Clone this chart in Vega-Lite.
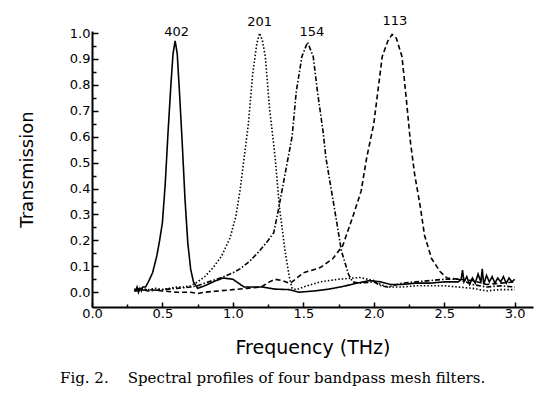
{
  "$schema": "https://vega.github.io/schema/vega-lite/v6.json",
  "width": 441,
  "height": 276,
  "autosize": {"type": "none"},
  "padding": {"left": 92, "top": 31, "right": 20, "bottom": 91},
  "background": "white",
  "config": {
    "view": {"stroke": null},
    "font": "DejaVu Sans",
    "axis": {
      "grid": false,
      "domainColor": "black",
      "domainWidth": 2,
      "tickColor": "black",
      "tickWidth": 1.5,
      "labelColor": "black",
      "labelFont": "DejaVu Sans",
      "labelFontSize": 13,
      "titleFont": "DejaVu Sans",
      "titleFontSize": 18,
      "titleFontWeight": "normal",
      "titleColor": "black",
      "labelFlush": false,
      "labelOverlap": false
    }
  },
  "title": {
    "text": "Fig. 2.\u00a0\u00a0\u00a0\u00a0Spectral profiles of four bandpass mesh filters.",
    "orient": "bottom",
    "anchor": "start",
    "frame": "group",
    "dx": -32,
    "offset": 14,
    "font": "DejaVu Serif",
    "fontSize": 15,
    "fontWeight": "normal",
    "color": "black"
  },
  "datasets": {
    "curves": [
      {"series": "402", "f": 0.30, "T": 0.01},
      {"series": "402", "f": 0.31, "T": 0.005},
      {"series": "402", "f": 0.32, "T": 0.02},
      {"series": "402", "f": 0.33, "T": 0.0},
      {"series": "402", "f": 0.34, "T": 0.015},
      {"series": "402", "f": 0.35, "T": 0.005},
      {"series": "402", "f": 0.36, "T": 0.02},
      {"series": "402", "f": 0.38, "T": 0.02},
      {"series": "402", "f": 0.40, "T": 0.04},
      {"series": "402", "f": 0.43, "T": 0.075},
      {"series": "402", "f": 0.46, "T": 0.14},
      {"series": "402", "f": 0.48, "T": 0.2},
      {"series": "402", "f": 0.50, "T": 0.27},
      {"series": "402", "f": 0.52, "T": 0.42},
      {"series": "402", "f": 0.54, "T": 0.62},
      {"series": "402", "f": 0.56, "T": 0.8},
      {"series": "402", "f": 0.575, "T": 0.92},
      {"series": "402", "f": 0.59, "T": 0.97},
      {"series": "402", "f": 0.605, "T": 0.92},
      {"series": "402", "f": 0.62, "T": 0.78},
      {"series": "402", "f": 0.64, "T": 0.58},
      {"series": "402", "f": 0.66, "T": 0.36},
      {"series": "402", "f": 0.68, "T": 0.19},
      {"series": "402", "f": 0.70, "T": 0.09},
      {"series": "402", "f": 0.72, "T": 0.04},
      {"series": "402", "f": 0.75, "T": 0.015},
      {"series": "402", "f": 0.80, "T": 0.025},
      {"series": "402", "f": 0.86, "T": 0.04},
      {"series": "402", "f": 0.93, "T": 0.055},
      {"series": "402", "f": 1.00, "T": 0.05},
      {"series": "402", "f": 1.04, "T": 0.035},
      {"series": "402", "f": 1.08, "T": 0.02},
      {"series": "402", "f": 1.15, "T": 0.02},
      {"series": "402", "f": 1.21, "T": 0.02},
      {"series": "402", "f": 1.30, "T": 0.012},
      {"series": "402", "f": 1.40, "T": 0.01},
      {"series": "402", "f": 1.47, "T": 0.0},
      {"series": "402", "f": 1.58, "T": 0.005},
      {"series": "402", "f": 1.68, "T": 0.012},
      {"series": "402", "f": 1.78, "T": 0.022},
      {"series": "402", "f": 1.88, "T": 0.035},
      {"series": "402", "f": 1.97, "T": 0.045},
      {"series": "402", "f": 2.05, "T": 0.04},
      {"series": "402", "f": 2.12, "T": 0.03},
      {"series": "402", "f": 2.2, "T": 0.03},
      {"series": "402", "f": 2.3, "T": 0.035},
      {"series": "402", "f": 2.4, "T": 0.035},
      {"series": "402", "f": 2.5, "T": 0.04},
      {"series": "402", "f": 2.6, "T": 0.04},
      {"series": "402", "f": 2.62, "T": 0.05},
      {"series": "402", "f": 2.63, "T": 0.085},
      {"series": "402", "f": 2.64, "T": 0.04},
      {"series": "402", "f": 2.66, "T": 0.06},
      {"series": "402", "f": 2.68, "T": 0.03},
      {"series": "402", "f": 2.70, "T": 0.055},
      {"series": "402", "f": 2.72, "T": 0.035},
      {"series": "402", "f": 2.74, "T": 0.07},
      {"series": "402", "f": 2.76, "T": 0.04},
      {"series": "402", "f": 2.77, "T": 0.09},
      {"series": "402", "f": 2.78, "T": 0.03},
      {"series": "402", "f": 2.80, "T": 0.065},
      {"series": "402", "f": 2.82, "T": 0.04},
      {"series": "402", "f": 2.84, "T": 0.06},
      {"series": "402", "f": 2.86, "T": 0.035},
      {"series": "402", "f": 2.88, "T": 0.055},
      {"series": "402", "f": 2.90, "T": 0.04},
      {"series": "402", "f": 2.92, "T": 0.06},
      {"series": "402", "f": 2.94, "T": 0.035},
      {"series": "402", "f": 2.96, "T": 0.055},
      {"series": "402", "f": 2.98, "T": 0.04},
      {"series": "402", "f": 3.0, "T": 0.05},

      {"series": "201", "f": 0.30, "T": 0.01},
      {"series": "201", "f": 0.35, "T": 0.015},
      {"series": "201", "f": 0.40, "T": 0.01},
      {"series": "201", "f": 0.45, "T": 0.015},
      {"series": "201", "f": 0.50, "T": 0.01},
      {"series": "201", "f": 0.55, "T": 0.015},
      {"series": "201", "f": 0.60, "T": 0.02},
      {"series": "201", "f": 0.65, "T": 0.02},
      {"series": "201", "f": 0.70, "T": 0.025},
      {"series": "201", "f": 0.75, "T": 0.04},
      {"series": "201", "f": 0.80, "T": 0.06},
      {"series": "201", "f": 0.86, "T": 0.095},
      {"series": "201", "f": 0.92, "T": 0.14},
      {"series": "201", "f": 0.98, "T": 0.21},
      {"series": "201", "f": 1.02, "T": 0.29},
      {"series": "201", "f": 1.05, "T": 0.39},
      {"series": "201", "f": 1.08, "T": 0.52},
      {"series": "201", "f": 1.11, "T": 0.65},
      {"series": "201", "f": 1.14, "T": 0.84},
      {"series": "201", "f": 1.17, "T": 0.96},
      {"series": "201", "f": 1.19, "T": 1.0},
      {"series": "201", "f": 1.21, "T": 0.97},
      {"series": "201", "f": 1.23, "T": 0.91},
      {"series": "201", "f": 1.26, "T": 0.71},
      {"series": "201", "f": 1.30, "T": 0.52},
      {"series": "201", "f": 1.33, "T": 0.33},
      {"series": "201", "f": 1.37, "T": 0.16},
      {"series": "201", "f": 1.40, "T": 0.06},
      {"series": "201", "f": 1.42, "T": 0.015},
      {"series": "201", "f": 1.45, "T": 0.01},
      {"series": "201", "f": 1.50, "T": 0.02},
      {"series": "201", "f": 1.62, "T": 0.04},
      {"series": "201", "f": 1.75, "T": 0.05},
      {"series": "201", "f": 1.90, "T": 0.057},
      {"series": "201", "f": 2.0, "T": 0.045},
      {"series": "201", "f": 2.05, "T": 0.03},
      {"series": "201", "f": 2.1, "T": 0.02},
      {"series": "201", "f": 2.2, "T": 0.02},
      {"series": "201", "f": 2.3, "T": 0.025},
      {"series": "201", "f": 2.4, "T": 0.025},
      {"series": "201", "f": 2.5, "T": 0.025},
      {"series": "201", "f": 2.6, "T": 0.02},
      {"series": "201", "f": 2.7, "T": 0.015},
      {"series": "201", "f": 2.8, "T": 0.005},
      {"series": "201", "f": 2.9, "T": 0.01},
      {"series": "201", "f": 3.0, "T": 0.01},

      {"series": "154", "f": 0.30, "T": 0.01},
      {"series": "154", "f": 0.35, "T": 0.01},
      {"series": "154", "f": 0.40, "T": 0.005},
      {"series": "154", "f": 0.50, "T": 0.01},
      {"series": "154", "f": 0.60, "T": 0.015},
      {"series": "154", "f": 0.70, "T": 0.02},
      {"series": "154", "f": 0.75, "T": 0.025},
      {"series": "154", "f": 0.80, "T": 0.035},
      {"series": "154", "f": 0.91, "T": 0.055},
      {"series": "154", "f": 1.00, "T": 0.075},
      {"series": "154", "f": 1.05, "T": 0.09},
      {"series": "154", "f": 1.12, "T": 0.12},
      {"series": "154", "f": 1.19, "T": 0.16},
      {"series": "154", "f": 1.25, "T": 0.2},
      {"series": "154", "f": 1.29, "T": 0.23},
      {"series": "154", "f": 1.32, "T": 0.31},
      {"series": "154", "f": 1.37, "T": 0.455},
      {"series": "154", "f": 1.42, "T": 0.6},
      {"series": "154", "f": 1.45, "T": 0.775},
      {"series": "154", "f": 1.49, "T": 0.91},
      {"series": "154", "f": 1.53, "T": 0.965},
      {"series": "154", "f": 1.57, "T": 0.91},
      {"series": "154", "f": 1.60, "T": 0.775},
      {"series": "154", "f": 1.64, "T": 0.62},
      {"series": "154", "f": 1.66, "T": 0.52},
      {"series": "154", "f": 1.70, "T": 0.39},
      {"series": "154", "f": 1.74, "T": 0.26},
      {"series": "154", "f": 1.77, "T": 0.16},
      {"series": "154", "f": 1.82, "T": 0.07},
      {"series": "154", "f": 1.85, "T": 0.04},
      {"series": "154", "f": 1.9, "T": 0.035},
      {"series": "154", "f": 2.0, "T": 0.04},
      {"series": "154", "f": 2.05, "T": 0.025},
      {"series": "154", "f": 2.1, "T": 0.02},
      {"series": "154", "f": 2.2, "T": 0.035},
      {"series": "154", "f": 2.3, "T": 0.04},
      {"series": "154", "f": 2.4, "T": 0.045},
      {"series": "154", "f": 2.5, "T": 0.05},
      {"series": "154", "f": 2.6, "T": 0.05},
      {"series": "154", "f": 2.7, "T": 0.03},
      {"series": "154", "f": 2.8, "T": 0.02},
      {"series": "154", "f": 2.9, "T": 0.025},
      {"series": "154", "f": 3.0, "T": 0.02},

      {"series": "113", "f": 0.30, "T": 0.005},
      {"series": "113", "f": 0.40, "T": 0.01},
      {"series": "113", "f": 0.50, "T": 0.005},
      {"series": "113", "f": 0.60, "T": 0.0},
      {"series": "113", "f": 0.70, "T": 0.0},
      {"series": "113", "f": 0.75, "T": -0.005},
      {"series": "113", "f": 0.80, "T": 0.0},
      {"series": "113", "f": 0.90, "T": 0.005},
      {"series": "113", "f": 1.00, "T": 0.01},
      {"series": "113", "f": 1.10, "T": 0.015},
      {"series": "113", "f": 1.20, "T": 0.02},
      {"series": "113", "f": 1.26, "T": 0.04},
      {"series": "113", "f": 1.30, "T": 0.05},
      {"series": "113", "f": 1.35, "T": 0.045},
      {"series": "113", "f": 1.40, "T": 0.035},
      {"series": "113", "f": 1.42, "T": 0.04},
      {"series": "113", "f": 1.50, "T": 0.075},
      {"series": "113", "f": 1.62, "T": 0.095},
      {"series": "113", "f": 1.71, "T": 0.13},
      {"series": "113", "f": 1.78, "T": 0.18},
      {"series": "113", "f": 1.85, "T": 0.29},
      {"series": "113", "f": 1.91, "T": 0.39},
      {"series": "113", "f": 1.95, "T": 0.52},
      {"series": "113", "f": 2.0, "T": 0.65},
      {"series": "113", "f": 2.03, "T": 0.78},
      {"series": "113", "f": 2.06, "T": 0.91},
      {"series": "113", "f": 2.10, "T": 0.97},
      {"series": "113", "f": 2.13, "T": 0.995},
      {"series": "113", "f": 2.16, "T": 0.98},
      {"series": "113", "f": 2.20, "T": 0.91},
      {"series": "113", "f": 2.23, "T": 0.75},
      {"series": "113", "f": 2.26, "T": 0.58},
      {"series": "113", "f": 2.29, "T": 0.455},
      {"series": "113", "f": 2.33, "T": 0.33},
      {"series": "113", "f": 2.36, "T": 0.22},
      {"series": "113", "f": 2.41, "T": 0.13},
      {"series": "113", "f": 2.47, "T": 0.08},
      {"series": "113", "f": 2.52, "T": 0.055},
      {"series": "113", "f": 2.6, "T": 0.05},
      {"series": "113", "f": 2.7, "T": 0.045},
      {"series": "113", "f": 2.8, "T": 0.03},
      {"series": "113", "f": 2.9, "T": 0.035},
      {"series": "113", "f": 3.0, "T": 0.04}
    ],
    "labels": [
      {"label": "402", "f": 0.60, "T": 1.004},
      {"label": "201", "f": 1.19, "T": 1.043},
      {"label": "154", "f": 1.56, "T": 1.004},
      {"label": "113", "f": 2.15, "T": 1.046}
    ]
  },
  "layer": [
    {
      "data": {"name": "curves"},
      "mark": {"type": "line", "color": "black", "strokeWidth": 1.6, "clip": false},
      "encoding": {
        "x": {
          "field": "f",
          "type": "quantitative",
          "scale": {"domain": [0, 3.13], "nice": false, "zero": false},
          "axis": {
            "title": "Frequency (THz)",
            "titleFontSize": 19,
            "titlePadding": 16,
            "values": [0, 0.25, 0.5, 0.75, 1, 1.25, 1.5, 1.75, 2, 2.25, 2.5, 2.75, 3],
            "labelExpr": "abs(datum.value*2 - round(datum.value*2)) < 0.001 ? format(datum.value, '.1f') : ''",
            "tickSize": {"condition": {"test": "abs(datum.value*2 - round(datum.value*2)) < 0.001", "value": -5}, "value": -3},
            "labelPadding": 5,
            "labelOverlap": false
          }
        },
        "y": {
          "field": "T",
          "type": "quantitative",
          "scale": {"domain": [-0.057, 1.008], "nice": false, "zero": false},
          "axis": {
            "title": "Transmission",
            "titlePadding": 33,
            "values": [0, 0.05, 0.1, 0.15, 0.2, 0.25, 0.3, 0.35, 0.4, 0.45, 0.5, 0.55, 0.6, 0.65, 0.7, 0.75, 0.8, 0.85, 0.9, 0.95, 1.0],
            "labelExpr": "abs(datum.value*10 - round(datum.value*10)) < 0.001 ? format(datum.value, '.1f') : ''",
            "tickSize": {"condition": {"test": "abs(datum.value*10 - round(datum.value*10)) < 0.001", "value": -6}, "value": -4},
            "labelPadding": 8,
            "labelOverlap": false
          }
        },
        "detail": {"field": "series", "type": "nominal"},
        "strokeDash": {
          "field": "series",
          "type": "nominal",
          "scale": {"domain": ["402", "201", "154", "113"], "range": [[1, 0], [1.5, 2], [5, 2, 1.5, 2], [5, 3]]},
          "legend": null
        }
      }
    },
    {
      "data": {"name": "labels"},
      "mark": {"type": "text", "fontSize": 13, "font": "DejaVu Sans", "color": "black"},
      "encoding": {
        "x": {
          "field": "f",
          "type": "quantitative",
          "axis": {
            "title": "Frequency (THz)",
            "titleFontSize": 19,
            "titlePadding": 16,
            "values": [0, 0.25, 0.5, 0.75, 1, 1.25, 1.5, 1.75, 2, 2.25, 2.5, 2.75, 3],
            "labelExpr": "abs(datum.value*2 - round(datum.value*2)) < 0.001 ? format(datum.value, '.1f') : ''",
            "tickSize": {"condition": {"test": "abs(datum.value*2 - round(datum.value*2)) < 0.001", "value": -5}, "value": -3},
            "labelPadding": 5,
            "labelOverlap": false
          }
        },
        "y": {
          "field": "T",
          "type": "quantitative",
          "axis": {
            "title": "Transmission",
            "titlePadding": 33,
            "values": [0, 0.05, 0.1, 0.15, 0.2, 0.25, 0.3, 0.35, 0.4, 0.45, 0.5, 0.55, 0.6, 0.65, 0.7, 0.75, 0.8, 0.85, 0.9, 0.95, 1.0],
            "labelExpr": "abs(datum.value*10 - round(datum.value*10)) < 0.001 ? format(datum.value, '.1f') : ''",
            "tickSize": {"condition": {"test": "abs(datum.value*10 - round(datum.value*10)) < 0.001", "value": -6}, "value": -4},
            "labelPadding": 8,
            "labelOverlap": false
          }
        },
        "text": {"field": "label", "type": "nominal"}
      }
    }
  ]
}
